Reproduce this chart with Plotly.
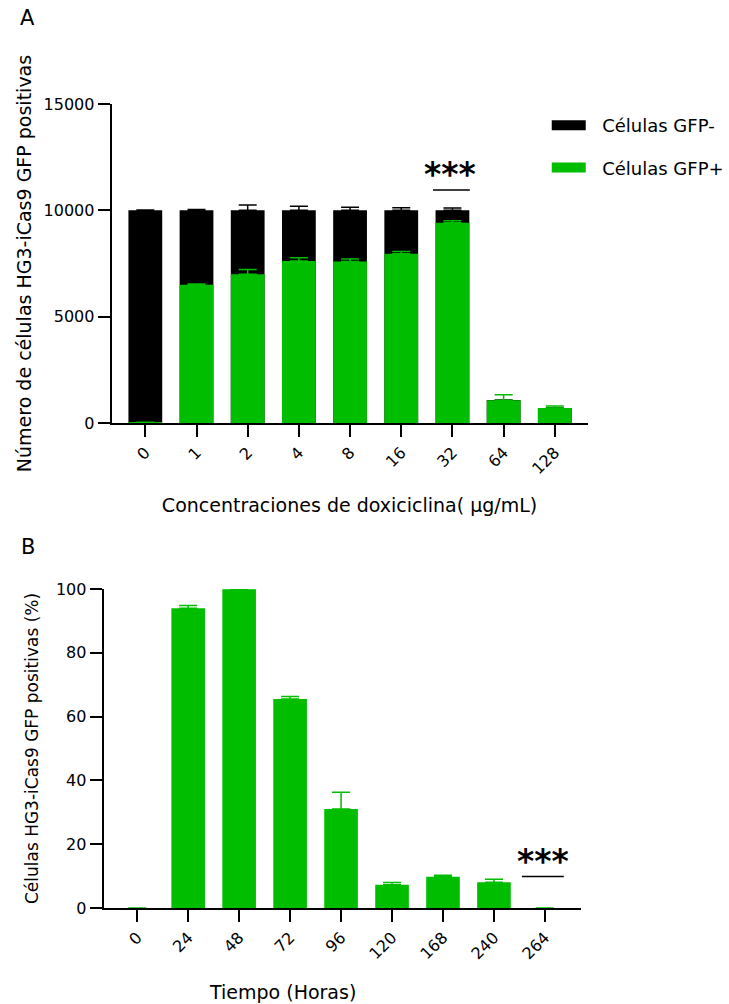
import plotly.graph_objects as go

# ---------------- Panel A data ----------------
conc = ["0", "1", "2", "4", "8", "16", "32", "64", "128"]
gfp_pos = [15, 6500, 7000, 7620, 7590, 7960, 9420, 1070, 705]
gfp_pos_err = [20, 40, 220, 150, 120, 110, 90, 260, 90]
gfp_neg = [9985, 3500, 3000, 2380, 2410, 2040, 580, 15, 0]
gfp_neg_err = [10, 40, 250, 190, 150, 120, 110, 0, 0]

# ---------------- Panel B data ----------------
hours = ["0", "24", "48", "72", "96", "120", "168", "240", "264"]
pct_pos = [0, 94.0, 99.9, 65.5, 31.0, 7.3, 9.8, 8.1, 0]
pct_err = [0, 0.8, 0.1, 0.8, 5.3, 0.7, 0.5, 0.9, 0]

GREEN = "#00BD00"
BLACK = "#000000"
FONT = "DejaVu Sans"

W, H = 729, 1004

total = [p + n for p, n in zip(gfp_pos, gfp_neg)]

fig = go.Figure()

# Panel A: total (black) drawn first, GFP+ (green) overlaid on it
fig.add_trace(go.Bar(
    x=conc, y=total, name="Células GFP-", marker=dict(color=BLACK, line=dict(width=0)),
    width=0.66, showlegend=False, xaxis="x", yaxis="y",
    error_y=dict(type="data", array=gfp_neg_err, arrayminus=[0] * len(conc), symmetric=False,
                 color=BLACK, thickness=1.5, width=9),
))
fig.add_trace(go.Bar(
    x=conc, y=gfp_pos, name="Células GFP+", marker=dict(color=GREEN, line=dict(width=0)),
    width=0.66, showlegend=False, xaxis="x", yaxis="y",
    error_y=dict(type="data", array=gfp_pos_err, arrayminus=[0] * len(conc), symmetric=False,
                 color=GREEN, thickness=1.5, width=9),
))

# Legend entries (wide swatches like the original)
NB = "\u00a0\u00a0"
fig.add_trace(go.Scatter(x=[None], y=[None], mode="lines", name=NB + "Células GFP-",
                         line=dict(color=BLACK, width=10), legendgroup="neg", xaxis="x", yaxis="y"))
fig.add_trace(go.Scatter(x=[None], y=[None], mode="lines", name=NB + "Células GFP+",
                         line=dict(color=GREEN, width=10), legendgroup="pos", xaxis="x", yaxis="y"))

# Panel B
fig.add_trace(go.Bar(
    x=hours, y=pct_pos, name="GFP+ (%)", marker=dict(color=GREEN, line=dict(width=0)),
    width=0.66, showlegend=False, xaxis="x2", yaxis="y2",
    error_y=dict(type="data", array=pct_err, arrayminus=[0] * len(hours), symmetric=False,
                 color=GREEN, thickness=1.5, width=9),
))

axis_common = dict(showline=True, linecolor="black", linewidth=1.8, ticks="outside",
                   ticklen=12, tickwidth=1.5, tickcolor="black", showgrid=False,
                   zeroline=False, automargin=False, layer="above traces",
                   tickfont=dict(family=FONT, size=16, color="black"))


def px_x(p):
    return p / W


def px_y(p):
    return 1 - p / H


fig.update_layout(
    width=W, height=H, template="none",
    paper_bgcolor="white", plot_bgcolor="white",
    margin=dict(l=0, r=0, t=0, b=0),
    barmode="overlay",
    font=dict(family=FONT, size=16, color="black"),
    xaxis=dict(axis_common, domain=[px_x(112), px_x(590)], type="category",
               range=[-0.66, 8.64], tickangle=-45, anchor="y",
               title=dict(text="Concentraciones de doxiciclina( µg/mL)", standoff=22,
                          font=dict(family=FONT, size=19))),
    yaxis=dict(axis_common, domain=[px_y(423), px_y(104)], range=[0, 15000],
               tickvals=[0, 5000, 10000, 15000], tickformat="d", anchor="x",
               title=dict(text="Número de células HG3-iCas9 GFP positivas", standoff=7,
                          font=dict(family=FONT, size=19))),
    xaxis2=dict(axis_common, domain=[px_x(104), px_x(583)], type="category",
                range=[-0.66, 8.7], tickangle=-45, anchor="y2"),
    yaxis2=dict(axis_common, domain=[px_y(908), px_y(589)], range=[0, 100],
                dtick=20, anchor="x2",
                title=dict(text="Células HG3-iCas9 GFP positivas (%)", standoff=13,
                           font=dict(family=FONT, size=17))),
    legend=dict(x=px_x(549), y=px_y(107), xanchor="left", yanchor="top",
                font=dict(family=FONT, size=18, color="black"),
                bgcolor="rgba(0,0,0,0)", borderwidth=0, tracegroupgap=16,
                itemwidth=34),
    annotations=[
        dict(text="A", x=px_x(28), y=px_y(18), xref="paper", yref="paper",
             xanchor="center", yanchor="middle",
             showarrow=False, font=dict(family=FONT, size=21)),
        dict(text="B", x=px_x(28), y=px_y(547), xref="paper", yref="paper",
             xanchor="center", yanchor="middle",
             showarrow=False, font=dict(family=FONT, size=21)),
        dict(text="<b>***</b>", x=6, y=11700, xref="x", yref="y", showarrow=False,
             xshift=-2, xanchor="center", yanchor="middle",
             font=dict(family=FONT, size=33)),
        dict(text="<b>***</b>", x=8, y=14.5, xref="x2", yref="y2", showarrow=False,
             xshift=-2, xanchor="center", yanchor="middle",
             font=dict(family=FONT, size=33)),
        dict(text="Tiempo (Horas)", x=px_x(284), y=px_y(992), xref="paper", yref="paper",
             xanchor="center", yanchor="middle",
             showarrow=False, font=dict(family=FONT, size=19)),
    ],
    shapes=[
        dict(type="line", xref="x", yref="y", x0=5.62, x1=6.34, y0=10960, y1=10960,
             line=dict(color="black", width=1.5)),
        dict(type="line", xref="x2", yref="y2", x0=7.55, x1=8.37, y0=9.9, y1=9.9,
             line=dict(color="black", width=1.5)),
    ],
)

# remove the default 8px page margin so figure pixels equal page pixels
fig.write_html("out.html", config={"displayModeBar": False},
               post_script="document.body.style.margin='0px';")
